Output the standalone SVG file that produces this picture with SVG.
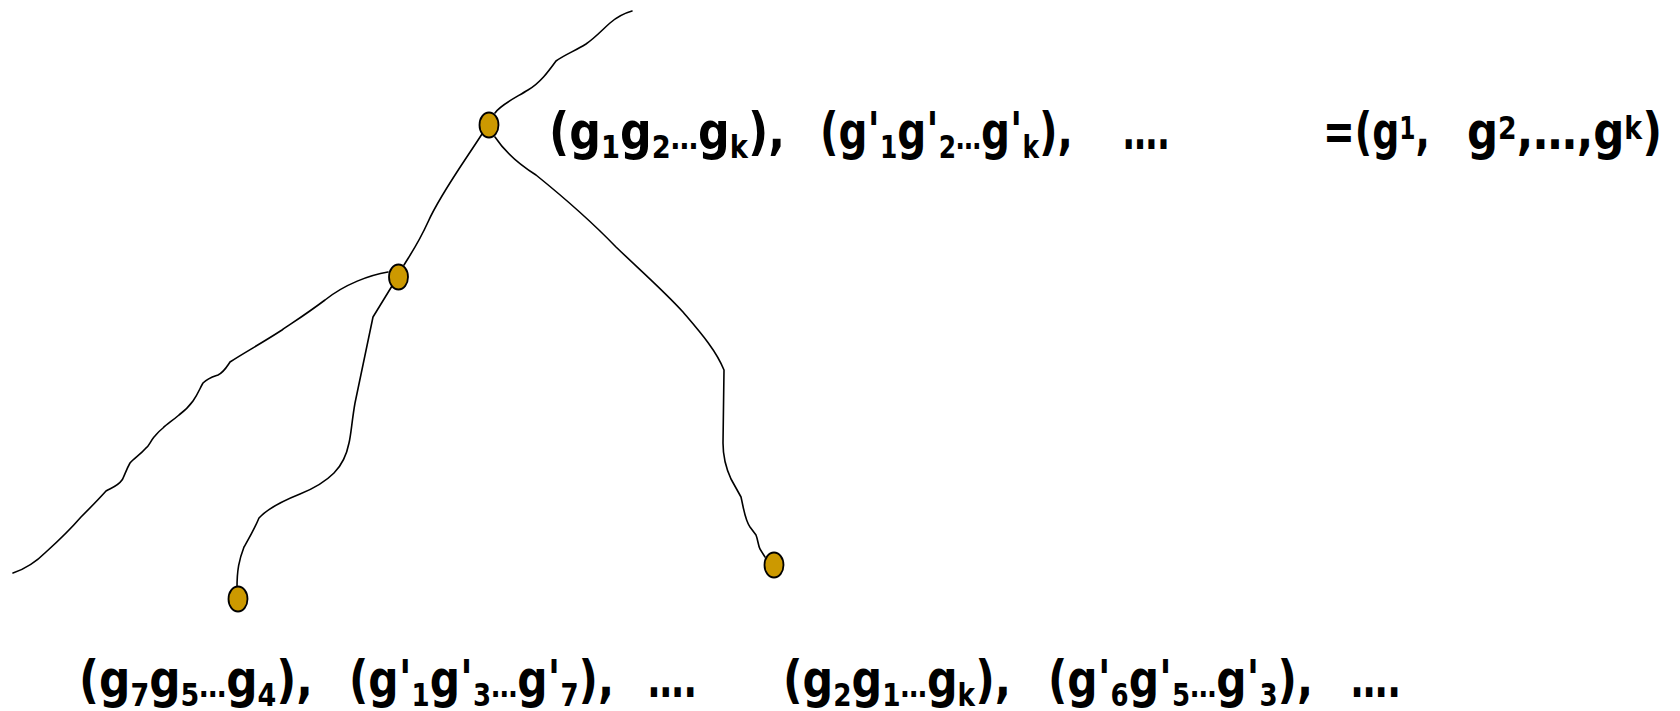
<svg xmlns="http://www.w3.org/2000/svg" width="1680" height="711" viewBox="0 0 1680 711">
<style>
.e{fill:none;stroke:#000;stroke-width:1.6;stroke-linecap:round;stroke-linejoin:round}
.n{fill:#CC9900;stroke:#000;stroke-width:1.8}
.t{font-family:"DejaVu Sans","Liberation Sans",sans-serif;font-weight:bold;font-size:52px;fill:#000}
.s{font-size:32px}
</style>
<rect width="1680" height="711" fill="#fff"/>
<g id="connectors">
<path class="e" d="M495,113 C500,105 515,98 528,90 C540,83 548,72 556,61 C566,54 575,51 586,44 C596,37 602,30 610,23 C618,16 625,13 632,11"/>
<path class="e" d="M482,134 C462,165 440,195 428,222 C418,244 410,255 404,265"/>
<path class="e" d="M495,137 C505,152 520,165 536,175 C562,196 590,220 616,247 C640,270 665,292 683,312 C700,332 716,350 724,370 L723,443 C723,456 725,466 731,479 L741,497 C744,510 745,520 750,527 L756,535 C758,540 758,545 760,549 L765,557"/>
<path class="e" d="M388,272 C370,275 345,284 325,300 C305,315 292,323 282,330 C262,343 242,354 230,362 C226,368 224,372 218,375 C212,377 208,378 203,383 C200,388 198,394 193,401 C188,408 183,412 179,415 C172,421 167,424 163,428 C158,432 156,435 154,437 C150,442 149,446 146,448 C140,455 134,458 130,463 C126,470 124,477 122,480 C118,486 111,488 106,491 C98,500 90,508 81,517 C68,532 56,543 46,552 C34,564 22,570 13,573"/>
<path class="e" d="M392,286 L373,317 C368,340 362,370 355,403 C352,420 351,435 349,443 C346,458 340,467 334,473 C325,482 315,488 300,494 C285,500 268,508 259,518 C254,530 248,540 244,547 C239,560 237,570 237,588"/>
</g>
<g id="node-root"><ellipse class="n" cx="489" cy="125" rx="9.5" ry="12.5"/></g>
<g id="node-mid"><ellipse class="n" cx="398.5" cy="277" rx="9.5" ry="12.5"/></g>
<g id="node-leaf-left"><ellipse class="n" cx="238" cy="599" rx="9.5" ry="12.5"/></g>
<g id="node-leaf-right"><ellipse class="n" cx="774" cy="565" rx="9.5" ry="12.5"/></g>
<g id="label-top">
<text class="t" x="549" y="149" textLength="236" lengthAdjust="spacingAndGlyphs">(g<tspan class="s" dy="9">1</tspan><tspan dy="-9">g</tspan><tspan class="s" dy="9">2</tspan><tspan class="s" dy="-9">…</tspan>g<tspan class="s" dy="9">k</tspan><tspan dy="-9">),</tspan></text>
<text class="t" x="820" y="149" textLength="253" lengthAdjust="spacingAndGlyphs">(g'<tspan class="s" dy="9">1</tspan><tspan dy="-9">g'</tspan><tspan class="s" dy="9">2</tspan><tspan class="s" dy="-9">…</tspan>g'<tspan class="s" dy="9">k</tspan><tspan dy="-9">),</tspan></text>
<text class="t" x="1123" y="149" textLength="47" lengthAdjust="spacingAndGlyphs">….</text>
<text class="t" x="1323" y="149" textLength="107" lengthAdjust="spacingAndGlyphs">=(g<tspan class="s" dy="-10">1</tspan><tspan dy="10">,</tspan></text>
<text class="t" x="1467" y="149" textLength="195" lengthAdjust="spacingAndGlyphs">g<tspan class="s" dy="-10">2</tspan><tspan dy="10">,…,g</tspan><tspan class="s" dy="-10">k</tspan><tspan dy="10">)</tspan></text>
</g>
<g id="label-leaf-left">
<text class="t" x="79" y="697" textLength="234" lengthAdjust="spacingAndGlyphs">(g<tspan class="s" dy="9">7</tspan><tspan dy="-9">g</tspan><tspan class="s" dy="9">5</tspan><tspan class="s" dy="-9">…</tspan>g<tspan class="s" dy="9">4</tspan><tspan dy="-9">),</tspan></text>
<text class="t" x="349" y="697" textLength="265" lengthAdjust="spacingAndGlyphs">(g'<tspan class="s" dy="9">1</tspan><tspan dy="-9">g'</tspan><tspan class="s" dy="9">3</tspan><tspan class="s" dy="-9">…</tspan>g'<tspan class="s" dy="9">7</tspan><tspan dy="-9">),</tspan></text>
<text class="t" x="648" y="697" textLength="49" lengthAdjust="spacingAndGlyphs">….</text>
</g>
<g id="label-leaf-right">
<text class="t" x="783" y="697" textLength="228" lengthAdjust="spacingAndGlyphs">(g<tspan class="s" dy="9">2</tspan><tspan dy="-9">g</tspan><tspan class="s" dy="9">1</tspan><tspan class="s" dy="-9">…</tspan>g<tspan class="s" dy="9">k</tspan><tspan dy="-9">),</tspan></text>
<text class="t" x="1048" y="697" textLength="265" lengthAdjust="spacingAndGlyphs">(g'<tspan class="s" dy="9">6</tspan><tspan dy="-9">g'</tspan><tspan class="s" dy="9">5</tspan><tspan class="s" dy="-9">…</tspan>g'<tspan class="s" dy="9">3</tspan><tspan dy="-9">),</tspan></text>
<text class="t" x="1351" y="697" textLength="50" lengthAdjust="spacingAndGlyphs">….</text>
</g>
</svg>
